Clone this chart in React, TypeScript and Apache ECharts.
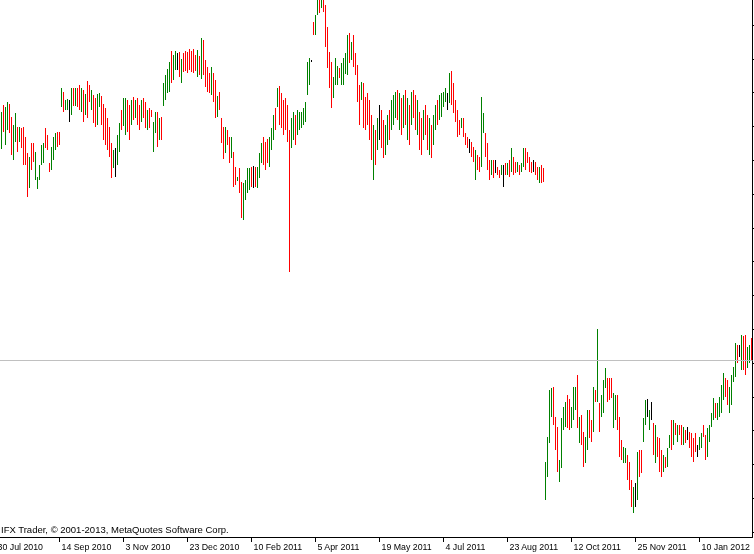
import React, { useEffect, useRef } from "react";
import * as echarts from "echarts";

// Daily bar highs / lows (price), one per visible bar, left to right
const highs = [
  1.488,1.495,1.493,1.498,1.496,1.483,1.475,1.487,1.473,1.473,
  1.472,1.473,1.463,1.447,1.443,1.457,1.457,1.448,1.423,1.435,
  1.455,1.457,1.472,1.465,1.437,1.453,1.463,1.467,1.468,1.468,
  1.512,1.508,1.500,1.501,1.500,1.512,1.512,1.512,1.512,1.515,
  1.512,1.510,1.506,1.519,1.515,1.510,1.505,1.502,1.506,1.507,
  1.504,1.496,1.492,1.482,1.473,1.457,1.450,1.452,1.465,1.477,
  1.490,1.502,1.502,1.500,1.495,1.500,1.503,1.500,1.502,1.495,
  1.500,1.502,1.498,1.490,1.492,1.490,1.478,1.488,1.488,1.482,
  1.483,1.517,1.525,1.531,1.538,1.549,1.545,1.549,1.547,1.548,
  1.541,1.547,1.549,1.548,1.551,1.549,1.551,1.545,1.550,1.544,
  1.562,1.560,1.540,1.533,1.527,1.533,1.527,1.520,1.504,1.508,
  1.482,1.473,1.473,1.470,1.463,1.463,1.448,1.433,1.423,1.432,
  1.418,1.417,1.420,1.432,1.432,1.433,1.434,1.433,1.433,1.447,
  1.457,1.463,1.458,1.461,1.463,1.472,1.485,1.492,1.512,1.514,
  1.507,1.500,1.502,1.495,1.470,1.482,1.488,1.485,1.490,1.488,
  1.488,1.492,1.498,1.538,1.542,1.540,1.578,1.585,1.603,1.602,
  1.605,1.602,1.595,1.573,1.548,1.538,1.523,1.542,1.534,1.532,
  1.537,1.542,1.547,1.565,1.567,1.558,1.565,1.547,1.535,1.515,
  1.518,1.517,1.503,1.507,1.500,1.485,1.475,1.470,1.482,1.495,
  1.490,1.480,1.475,1.485,1.490,1.500,1.505,1.508,1.510,1.507,
  1.502,1.505,1.510,1.502,1.495,1.508,1.510,1.505,1.500,1.488,
  1.482,1.490,1.495,1.485,1.482,1.475,1.485,1.495,1.500,1.505,
  1.507,1.508,1.512,1.507,1.527,1.529,1.517,1.500,1.490,1.480,
  1.482,1.482,1.467,1.463,1.461,1.458,1.453,1.450,1.445,1.443,
  1.503,1.487,1.467,1.457,1.440,1.440,1.440,1.440,1.433,1.430,
  1.435,1.435,1.437,1.437,1.440,1.452,1.443,1.438,1.438,1.435,
  1.437,1.452,1.452,1.448,1.443,1.438,1.440,1.438,1.433,1.433,
  1.435,1.432,1.138,1.163,1.210,1.212,1.213,1.183,1.173,1.140,
  1.182,1.193,1.198,1.205,1.201,1.193,1.213,1.213,1.225,1.183,
  1.185,1.168,1.163,1.190,1.190,1.180,1.213,1.210,1.271,1.197,
  1.205,1.220,1.232,1.222,1.222,1.222,1.207,1.205,1.205,1.183,
  1.160,1.153,1.152,1.145,1.138,1.120,1.113,1.117,1.148,1.150,
  1.150,1.182,1.200,1.201,1.190,1.198,1.177,1.175,1.163,1.162,
  1.150,1.145,1.143,1.152,1.165,1.180,1.180,1.177,1.175,1.175,
  1.175,1.173,1.170,1.173,1.168,1.167,1.162,1.167,1.155,1.163,
  1.167,1.175,1.165,1.172,1.175,1.187,1.202,1.197,1.197,1.203,
  1.215,1.227,1.222,1.220,1.213,1.225,1.233,1.257,1.255,1.255,
  1.265,1.264,1.265,1.253,1.255,1.262,
];

const lows = [
  1.451,1.468,1.455,1.470,1.467,1.445,1.440,1.458,1.448,1.458,
  1.452,1.435,1.435,1.403,1.412,1.430,1.438,1.420,1.411,1.420,
  1.435,1.437,1.452,1.450,1.428,1.430,1.440,1.450,1.453,1.455,
  1.493,1.488,1.490,1.490,1.478,1.485,1.494,1.494,1.493,1.490,
  1.488,1.478,1.485,1.482,1.498,1.490,1.477,1.473,1.475,1.493,
  1.475,1.460,1.455,1.450,1.443,1.422,1.432,1.423,1.435,1.448,
  1.470,1.474,1.465,1.468,1.460,1.475,1.480,1.482,1.475,1.470,
  1.478,1.482,1.472,1.470,1.472,1.483,1.448,1.467,1.453,1.460,
  1.460,1.494,1.500,1.507,1.508,1.517,1.520,1.530,1.530,1.523,
  1.517,1.528,1.529,1.527,1.530,1.528,1.527,1.529,1.523,1.525,
  1.521,1.525,1.513,1.508,1.507,1.505,1.498,1.482,1.483,1.490,
  1.457,1.441,1.447,1.455,1.437,1.442,1.413,1.415,1.419,1.407,
  1.382,1.380,1.400,1.407,1.410,1.413,1.412,1.413,1.412,1.422,
  1.437,1.435,1.430,1.437,1.433,1.450,1.460,1.470,1.493,1.475,
  1.472,1.465,1.470,1.458,1.328,1.452,1.460,1.455,1.465,1.470,
  1.472,1.475,1.478,1.505,1.515,1.538,1.565,1.565,1.585,1.587,
  1.592,1.588,1.553,1.532,1.512,1.492,1.502,1.515,1.515,1.522,
  1.515,1.515,1.526,1.525,1.537,1.540,1.533,1.525,1.498,1.475,
  1.500,1.472,1.470,1.475,1.460,1.440,1.420,1.435,1.450,1.460,
  1.452,1.442,1.445,1.455,1.460,1.470,1.475,1.482,1.480,1.470,
  1.465,1.472,1.475,1.460,1.455,1.475,1.482,1.470,1.465,1.450,
  1.445,1.460,1.465,1.450,1.445,1.442,1.455,1.470,1.475,1.480,
  1.483,1.493,1.498,1.490,1.497,1.495,1.487,1.478,1.463,1.465,
  1.472,1.463,1.455,1.452,1.447,1.443,1.438,1.420,1.430,1.428,
  1.433,1.467,1.443,1.430,1.420,1.425,1.422,1.427,1.425,1.422,
  1.425,1.413,1.425,1.425,1.423,1.428,1.425,1.427,1.428,1.425,
  1.428,1.433,1.430,1.437,1.428,1.427,1.428,1.425,1.420,1.417,
  1.417,1.418,1.100,1.123,1.157,1.183,1.175,1.150,1.128,1.118,
  1.132,1.170,1.173,1.172,1.170,1.172,1.180,1.190,1.172,1.157,
  1.155,1.133,1.137,1.150,1.162,1.158,1.168,1.198,1.198,1.168,
  1.183,1.187,1.212,1.198,1.200,1.202,1.172,1.180,1.170,1.143,
  1.140,1.137,1.137,1.120,1.110,1.093,1.087,1.093,1.100,1.123,
  1.127,1.158,1.175,1.183,1.170,1.180,1.145,1.137,1.143,1.128,
  1.123,1.128,1.132,1.133,1.152,1.150,1.155,1.165,1.158,1.165,
  1.155,1.155,1.157,1.160,1.152,1.143,1.138,1.148,1.143,1.150,
  1.152,1.163,1.140,1.143,1.158,1.173,1.180,1.182,1.180,1.183,
  1.187,1.200,1.203,1.195,1.187,1.195,1.218,1.223,1.237,1.243,
  1.230,1.230,1.225,1.232,1.237,1.240,
];

// u = close above open (green), d = close below open (red), f = unchanged (black)
const barDirections =
  "uduudduudu" + "ddddudduuu" + "uuddduuudd" + "uduufududd" + "ududdudduu" +
  "ddddddufuu" + "duuddududd" + "uddudduudu" + "duuuuduufd" + "udddddddud" +
  "udddduddud" + "ddudduddud" + "duuuudfduu" + "uddduuudud" + "ddddduuduu" +
  "uuuuufduud" + "uddddduuud" + "uuuududddd" + "uddddduduf" + "dduuduuudu" +
  "dudududdud" + "dudduduudu" + "uuufuddddd" + "udddfddudd" + "uudddudfdd" +
  "ufdududdud" + "uuddddfddu" + "dduuuudddu" + "uuudduuudu" + "dduuddudud" +
  "uuuddduudd" + "duudddufud" + "duufufdudd" + "duduududud" + "dudfddddfu" +
  "udduuuuduu" + "uudduuuudf" + "udduud";

const timeLabels = [
  "30 Jul 2010", "14 Sep 2010", "3 Nov 2010", "23 Dec 2010", "10 Feb 2011", "5 Apr 2011",
  "19 May 2011", "4 Jul 2011", "23 Aug 2011", "12 Oct 2011", "25 Nov 2011", "10 Jan 2012",
];

const hiddenBarsBefore = 3; // bars scrolled off the left edge
const barsPerTimeLabel = 32;
const horizontalLevel = 1.2375;

const priceMin = 1.0342;
const priceMax = 1.6088;
const priceStep = 0.0338;

const BAR_COLORS: Record<string, string> = { u: "#008000", d: "#ff0000", f: "#000000" };

export default function App() {
  const ref = useRef<HTMLDivElement>(null);

  useEffect(() => {
    document.body.style.margin = "0";
    const el = ref.current!;
    const chart = echarts.init(el, null, { renderer: "svg" });
    const total = hiddenBarsBefore + highs.length;
    const categories = Array.from({ length: total }, (_, j) =>
      j % barsPerTimeLabel === 0 ? timeLabels[j / barsPerTimeLabel] ?? "" : ""
    );
    const data = highs.map((h, i) => [i + hiddenBarsBefore, h, lows[i]]);
    const isLabel = (idx: number) => idx % barsPerTimeLabel === 0;

    chart.setOption({
      animation: false,
      grid: [
        { left: -5.5, right: 1.5, top: -8.8, bottom: -11.8, containLabel: false, outerBoundsMode: "none" },
        { left: -5.5, right: 1.5, top: 0, bottom: 17, containLabel: false, outerBoundsMode: "none" },
      ],
      xAxis: [
        { type: "category", gridIndex: 0, data: categories, boundaryGap: true, show: false },
        {
          type: "category",
          gridIndex: 1,
          data: categories,
          boundaryGap: true,
          position: "bottom",
          axisLine: { show: true, onZero: false, lineStyle: { color: "#000", width: 1 } },
          axisTick: {
            show: true,
            alignWithLabel: true,
            interval: isLabel,
            length: 5,
            lineStyle: { color: "#000", width: 1 },
          },
          axisLabel: {
            show: true,
            interval: isLabel,
            align: "left",
            margin: 4,
            padding: [0, 0, 0, 2],
            color: "#000",
            fontFamily: '"Liberation Sans", sans-serif',
            fontSize: 8.8,
            lineHeight: 11,
            hideOverlap: false,
          },
          splitLine: { show: false },
        },
      ],
      yAxis: [
        {
          type: "value",
          gridIndex: 0,
          position: "right",
          min: priceMin,
          max: priceMax,
          interval: priceStep,
          axisLine: { show: false },
          axisTick: { show: true, length: 2, lineStyle: { color: "#000" } },
          axisLabel: { show: false },
          splitLine: { show: false },
        },
        {
          type: "value",
          gridIndex: 1,
          position: "right",
          min: 0,
          max: 1,
          axisLine: { show: true, onZero: false, lineStyle: { color: "#000", width: 1 } },
          axisTick: { show: false },
          axisLabel: { show: false },
          splitLine: { show: false },
        },
      ],
      series: [
        {
          type: "custom",
          xAxisIndex: 0,
          yAxisIndex: 0,
          silent: true,
          data,
          encode: { x: 0, y: [1, 2] },
          renderItem: (params: any, api: any) => {
            const j = api.value(0);
            const top = api.coord([j, api.value(1)]);
            const bottom = api.coord([j, api.value(2)]);
            const dir = barDirections.charAt(params.dataIndex);
            return {
              type: "rect",
              shape: { x: top[0] - 0.5, y: top[1], width: 1, height: Math.max(1, bottom[1] - top[1]) },
              style: { fill: BAR_COLORS[dir] || "#000000", stroke: null },
            };
          },
          markLine: {
            silent: true,
            symbol: ["none", "none"],
            label: { show: false },
            lineStyle: { color: "#c0c0c0", width: 1, type: "solid" },
            data: [{ yAxis: horizontalLevel }],
          },
        },
      ],
      graphic: [
        {
          type: "text",
          x: 1,
          y: 529.7,
          silent: true,
          style: {
            text: "IFX Trader, © 2001-2013, MetaQuotes Software Corp.",
            fill: "#000",
            font: '9.5px "Liberation Sans", sans-serif',
            align: "left",
            verticalAlign: "middle",
          },
        },
      ],
    });
    return () => chart.dispose();
  }, []);

  return (
    <div
      ref={ref}
      style={{ position: "fixed", left: 0, top: 0, width: 754, height: 554 }}
    />
  );
}
